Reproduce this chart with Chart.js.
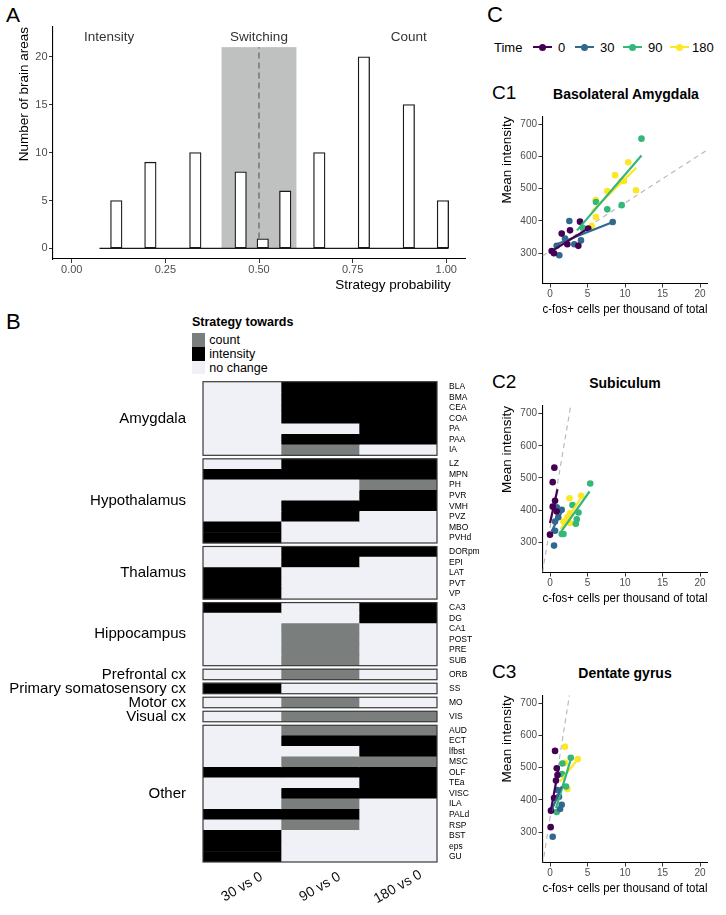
<!DOCTYPE html>
<html>
<head>
<meta charset="utf-8">
<script src="https://cdn.jsdelivr.net/npm/chart.js@4.4.1/dist/chart.umd.min.js"></script>
<style>
body { margin:0; width:726px; height:915px; position:relative; background:#fff; overflow:hidden;
  font-family:"Liberation Sans", Arial, Helvetica, sans-serif; color:#000; }
canvas { position:absolute; }
.t { position:absolute; white-space:nowrap; line-height:1; transform:translateY(-50%); }
.tc { position:absolute; white-space:nowrap; line-height:1; transform:translate(-50%,-50%); }
.box { position:absolute; }
</style>
</head>
<body>
<div class="t" style="left:6px;top:14px;font-size:21px">A</div>
<div class="t" style="left:6px;top:322px;font-size:22px">B</div>
<div class="t" style="left:487px;top:15px;font-size:22px">C</div>
<div class="t" style="left:492px;top:92px;font-size:19px">C1</div>
<div class="tc" style="left:626px;top:93.5px;font-size:14px;font-weight:bold">Basolateral Amygdala</div>
<div class="t" style="left:492px;top:381px;font-size:19px">C2</div>
<div class="tc" style="left:625px;top:383px;font-size:14px;font-weight:bold">Subiculum</div>
<div class="t" style="left:492px;top:670.5px;font-size:19px">C3</div>
<div class="tc" style="left:625px;top:673px;font-size:14px;font-weight:bold">Dentate gyrus</div>
<div class="t" style="left:192px;top:322px;font-size:12.5px;font-weight:bold">Strategy towards</div>
<div id="legB"></div>
<div class="t" style="left:494px;top:47px;font-size:13px">Time</div>
<div id="legC"></div>

<canvas id="histA" width="470" height="300" style="left:0;top:0"></canvas>
<canvas id="heatB" width="480" height="615" style="left:0;top:300px"></canvas>
<canvas id="c1" width="246" height="220" style="left:480px;top:100px"></canvas>
<canvas id="c2" width="246" height="220" style="left:480px;top:389px"></canvas>
<canvas id="c3" width="246" height="220" style="left:480px;top:679px"></canvas>

<script>
Chart.defaults.font.family = '"Liberation Sans", Arial, Helvetica, sans-serif';
Chart.defaults.color = '#4d4d4d';

// ---------- A: strategy probability histogram
const probBins = [0.119, 0.210, 0.330, 0.451, 0.510, 0.570, 0.661, 0.780, 0.900, 0.991];
const areaCounts = [5, 9, 10, 8, 1, 6, 10, 20, 15, 5];
const histRange = [0.074, 1.006];
const probTicks = [0, 0.25, 0.5, 0.75, 1];
const countTicks = [0, 5, 10, 15, 20];
const zoneNames = ['Intensity', 'Switching', 'Count'];
const zoneX = [0.1, 0.5, 0.9];
const zoneLabelY = 22;
const switchBand = [0.4, 0.6];
const switchTop = 21;
const switchMid = 0.5;

// ---------- B: strategy change per area
const groupNames = ['Amygdala', 'Hypothalamus', 'Thalamus', 'Hippocampus', 'Prefrontal cx',
  'Primary somatosensory cx', 'Motor cx', 'Visual cx', 'Other'];
const groupSizes = [7, 8, 5, 6, 1, 1, 1, 1, 13];
const areaNames = ['BLA','BMA','CEA','COA','PA','PAA','IA',
  'LZ','MPN','PH','PVR','VMH','PVZ','MBO','PVHd',
  'DORpm','EPI','LAT','PVT','VP',
  'CA3','DG','CA1','POST','PRE','SUB',
  'ORB','SS','MO','VIS',
  'AUD','ECT','lfbst','MSC','OLF','TEa','VISC','ILA','PALd','RSP','BST','eps','GU'];
const comparisons = ['30 vs 0', '90 vs 0', '180 vs 0'];
// c = count, i = intensity, n = no change (one letter per area, groups split by spaces)
const towards30  = 'nnnnnnn ninnnnii nniii innnnn n i n n nnnninnniniii';
const towards90  = 'iiiinic iinniinn iinnn nncccc c n c c cincinicicnnn';
const towards180 = 'iiiiiin iiciinnn innnn iinnnn n n n c ciiciiinnnnnn';
const strategyKeys = ['c', 'i', 'n'];
const strategyNames = ['count', 'intensity', 'no change'];
const strategyColors = ['#7a7f7d', '#000000', '#f0f0f7'];

// ---------- C: intensity vs c-fos counts
const times = ['0', '30', '90', '180'];
const timeColors = ['#440154', '#31688e', '#35b779', '#fde725'];
const cfosTicks = [0, 5, 10, 15, 20];
const intensityTicks = [300, 400, 500, 600, 700];

// C1 basolateral amygdala
const blaCount = [
  [0.22, 0.53, 1.56, 2.31, 2.67, 3.78, 4.0, 5.1],
  [0.89, 1.24, 2.0, 2.58, 3.24, 4.13, 8.36],
  [4.36, 6.13, 7.64, 9.56, 12.2],
  [5.56, 6.13, 6.09, 7.64, 8.67, 9.56, 9.87, 10.44, 11.47]];
const blaIntensity = [
  [307, 300, 361, 328, 371, 323, 398, 377],
  [323, 294, 346, 400, 328, 340, 397],
  [379, 459, 436, 449, 655],
  [385, 412, 465, 493, 542, 524, 524, 582, 495]];
const blaFitX = [[0.13, 5.1], [0.9, 8.4], [3.6, 12.2], [5.56, 11.5]];
const blaFitY = [[305, 377], [328, 397], [371, 603], [429, 565]];
const blaRefX = [-1, 21];
const blaRefY = [291.6, 620.4];

// C2 subiculum
const subCount = [
  [0.58, 0.36, 0.67, 0.36, 0.9, 0.0],
  [0.54, 0.9, 1.56, 1.1, 0.67, 0.67],
  [5.36, 3.0, 3.8, 3.57, 3.44, 1.56, 1.8],
  [2.6, 4.15, 2.68, 1.79, 2.32, 2.68]];
const subIntensity = [
  [532, 487, 429, 411, 396, 324],
  [290, 409, 401, 378, 365, 336],
  [483, 416, 393, 372, 358, 326, 326],
  [437, 445, 391, 365, 378, 360]];
const subFitX = [[0, 1.0], [0.2, 1.7], [1.34, 5.27], [1.43, 4.24]];
const subFitY = [[360, 465], [334, 401], [329, 458], [341, 442]];
const subRefX = [-1, 2.75];
const subRefY = [207, 723];

// C3 dentate gyrus
const dgCount = [
  [0.67, 0.09, 0.13, 0.9, 1.0, 0.54, 0.8],
  [0.36, 1.34, 1.56, 1.0, 1.2],
  [0.9, 1.65, 2.14, 2.77, 1.6],
  [2.0, 3.7, 2.0, 2.32]];
const dgIntensity = [
  [552, 316, 367, 498, 477, 406, 460],
  [286, 372, 385, 431, 410],
  [363, 513, 442, 531, 480],
  [565, 527, 515, 434]];
const dgFitX = [[0.1, 1.2], [0.2, 1.56], [0.8, 2.9], [1.34, 3.7]];
const dgFitY = [[365, 505], [367, 442], [375, 536], [457, 526]];
const dgRefX = [-1, 2.6];
const dgRefY = [197, 726];

const FONT = '"Liberation Sans", Arial, Helvetica, sans-serif';
const noHover = { legend: { display: false }, tooltip: { enabled: false } };

// ================= A
const zonePlugin = {
  id: 'zones',
  beforeDatasetsDraw(chart) {
    const { ctx, scales: { x, y } } = chart;
    const x0 = x.getPixelForValue(switchBand[0]), x1 = x.getPixelForValue(switchBand[1]);
    const yt = y.getPixelForValue(switchTop), yb = y.getPixelForValue(0);
    ctx.save();
    ctx.fillStyle = '#bfc1c0';
    ctx.fillRect(x0, yt, x1 - x0, yb - yt);
    ctx.restore();
  },
  afterDraw(chart) {
    const { ctx, scales: { x, y }, chartArea } = chart;
    ctx.save();
    ctx.font = '13.5px ' + FONT;
    ctx.textBaseline = 'middle';
    ctx.textAlign = 'center';
    ctx.fillStyle = '#333';
    zoneNames.forEach((n, i) => ctx.fillText(n, x.getPixelForValue(zoneX[i]), y.getPixelForValue(zoneLabelY)));
    ctx.fillStyle = '#000';
    ctx.textAlign = 'right';
    ctx.fillText('Strategy probability', x.getPixelForValue(1) + 4.5, chartArea.bottom + 26);
    ctx.restore();
  }
};

new Chart(document.getElementById('histA'), {
  type: 'bar',
  data: {
    datasets: [
      { type: 'bar', data: probBins.map((p, i) => ({ x: p, y: areaCounts[i] })),
        backgroundColor: '#ffffff', borderColor: '#1a1a1a', borderWidth: 1.3, borderSkipped: false,
        barThickness: 11.5, order: 0 },
      { type: 'line', data: histRange.map(p => ({ x: p, y: 0 })),
        borderColor: '#1a1a1a', borderWidth: 1.3, pointRadius: 0, order: 0 },
      { type: 'line', data: [{ x: switchMid, y: 0 }, { x: switchMid, y: switchTop }],
        borderColor: '#595959', borderWidth: 1.1, borderDash: [6, 4], pointRadius: 0, order: 2 }
    ]
  },
  options: {
    responsive: false, animation: false, events: [],
    layout: { padding: { left: 0, right: 5, top: 27, bottom: 0 } },
    plugins: noHover,
    scales: {
      x: { type: 'linear', min: -0.05, max: 1.05, offset: false,
        afterBuildTicks: s => { s.ticks = probTicks.map(v => ({ value: v })); },
        afterFit: s => { s.height = 41; },
        ticks: { callback: v => v.toFixed(2), color: '#4d4d4d', font: { size: 11 }, padding: 0, maxRotation: 0 },
        grid: { drawOnChartArea: false, tickLength: 4, color: '#333', offset: false },
        border: { color: '#000', width: 1.1 } },
      y: { type: 'linear', min: -1.1, max: 23.1,
        afterBuildTicks: s => { s.ticks = countTicks.map(v => ({ value: v })); },
        afterFit: s => { s.width = 53; },
        ticks: { color: '#4d4d4d', font: { size: 11 }, padding: 1.5 },
        grid: { drawOnChartArea: false, tickLength: 4, color: '#333' },
        border: { color: '#000', width: 1.1 },
        title: { display: true, text: 'Number of brain areas', align: 'end', color: '#000',
          font: { size: 13.5 }, padding: { top: 15.9, bottom: 0 } } }
    }
  },
  plugins: [zonePlugin]
});

// ================= B
const groupGap = 0.333;
const rowPos = [], groupCenter = [], groupSpan = [];
let rowCount = 0;
groupSizes.forEach((n, g) => {
  const first = rowCount + g * groupGap;
  for (let r = 0; r < n; r++) rowPos.push(first + r);
  groupSpan.push([first - 0.5, first + n - 0.5]);
  groupCenter.push(first + (n - 1) / 2);
  rowCount += n;
});
const towards = [towards30, towards90, towards180].map(s => s.replace(/\s/g, '').split(''));
const colorOf = k => strategyColors[strategyKeys.indexOf(k)];

const legB = document.getElementById('legB');
strategyNames.forEach((n, i) => {
  const top = 333.3 + i * 13.7;
  legB.insertAdjacentHTML('beforeend',
    `<div class="box" style="left:192px;top:${top}px;width:13.3px;height:13.7px;background:${strategyColors[i]}"></div>` +
    `<div class="t" style="left:209.3px;top:${top + 6.9}px;font-size:12.5px">${n}</div>`);
});

const heatPlugin = {
  id: 'heatBoxes',
  afterDatasetsDraw(chart) {
    const { ctx, chartArea, scales: { x, y } } = chart;
    ctx.save();
    ctx.strokeStyle = '#3a3a3a';
    ctx.lineWidth = 1.2;
    groupSpan.forEach(([a, b]) => {
      const ya = y.getPixelForValue(a), yb = y.getPixelForValue(b);
      ctx.strokeRect(chartArea.left, ya, chartArea.right - chartArea.left, yb - ya);
    });
    ctx.fillStyle = '#111';
    ctx.font = '14px ' + FONT;
    ctx.textAlign = 'center';
    ctx.textBaseline = 'middle';
    comparisons.forEach((c, j) => {
      ctx.save();
      ctx.translate(x.getPixelForValue(j + 0.5), chartArea.bottom + 25);
      ctx.rotate(-30 * Math.PI / 180);
      ctx.fillText(c, 0, 0);
      ctx.restore();
    });
    ctx.restore();
  }
};

new Chart(document.getElementById('heatB'), {
  type: 'bar',
  data: {
    datasets: comparisons.map((c, j) => ({
      label: c, yAxisID: 'y', xAxisID: 'x',
      data: rowPos.map(p => ({ x: 1, y: p })),
      backgroundColor: towards[j].map(colorOf),
      borderWidth: 0, barPercentage: 1, categoryPercentage: 1
    }))
  },
  options: {
    indexAxis: 'y',
    responsive: false, animation: false, events: [],
    layout: { padding: { left: 0, right: 0, top: 81.7, bottom: 53 } },
    plugins: noHover,
    scales: {
      x: { type: 'linear', min: 0, max: 3, stacked: true, display: false },
      y: { type: 'linear', position: 'right', reverse: true, stacked: true, offset: false,
        min: -0.5, max: rowPos[rowPos.length - 1] + 0.5,
        afterBuildTicks: s => { s.ticks = rowPos.map(v => ({ value: v })); },
        afterFit: s => { s.width = 43; },
        ticks: { autoSkip: false, callback: (v, i) => areaNames[i], color: '#000', font: { size: 8.5 }, padding: 4 },
        grid: { display: false }, border: { display: false } },
      yg: { type: 'linear', axis: 'y', position: 'left', reverse: true, offset: false,
        min: -0.5, max: rowPos[rowPos.length - 1] + 0.5,
        afterBuildTicks: s => { s.ticks = groupCenter.map(v => ({ value: v })); },
        afterFit: s => { s.width = 203; },
        ticks: { autoSkip: false, callback: (v, i) => groupNames[i], color: '#000', font: { size: 15 }, padding: 9 },
        grid: { display: false }, border: { display: false } }
    }
  },
  plugins: [heatPlugin]
});

// ================= C
const legC = document.getElementById('legC');
const legLineX = [533, 575, 623, 670];
const legTextX = [558, 600, 648, 692];
times.forEach((t, j) => {
  legC.insertAdjacentHTML('beforeend',
    `<div class="box" style="left:${legLineX[j]}px;top:45.7px;width:19px;height:2.6px;background:${timeColors[j]}"></div>` +
    `<div class="box" style="left:${legLineX[j] + 6}px;top:43.5px;width:7px;height:7px;border-radius:50%;background:${timeColors[j]}"></div>` +
    `<div class="t" style="left:${legTextX[j]}px;top:47px;font-size:13px">${t}</div>`);
});

function cfosChart(id, counts, intens, fitX, fitY, refX, refY, padTop) {
  const datasets = [{
    type: 'line', data: refX.map((v, i) => ({ x: v, y: refY[i] })),
    borderColor: '#b5b5b5', borderWidth: 1.1, borderDash: [5, 4], pointRadius: 0, order: 3
  }];
  times.forEach((t, j) => {
    datasets.push({ type: 'scatter', label: t, data: counts[j].map((v, i) => ({ x: v, y: intens[j][i] })),
      backgroundColor: timeColors[j], borderWidth: 0, pointRadius: 3.3, order: 2 });
    datasets.push({ type: 'line', data: fitX[j].map((v, i) => ({ x: v, y: fitY[j][i] })),
      borderColor: timeColors[j], borderWidth: 2.2, pointRadius: 0, order: 1 });
  });
  return new Chart(document.getElementById(id), {
    type: 'scatter',
    data: { datasets },
    options: {
      responsive: false, animation: false, events: [],
      layout: { padding: { left: 0, right: 18.5, top: padTop, bottom: 0 } },
      plugins: noHover,
      scales: {
        x: { type: 'linear', min: -1, max: 21,
          afterBuildTicks: s => { s.ticks = cfosTicks.map(v => ({ value: v })); },
          afterFit: s => { s.height = 36.5; },
          ticks: { color: '#4d4d4d', font: { size: 10 }, padding: 1, maxRotation: 0 },
          grid: { drawOnChartArea: false, tickLength: 4, color: '#333' },
          border: { color: '#000', width: 1.1 },
          title: { display: true, text: 'c-fos+ cells per thousand of total', align: 'end', color: '#000',
            font: { size: 13.5 }, padding: { top: 0, bottom: 2.5 } } },
        y: { type: 'linear', min: 206.5, max: 723.5,
          afterBuildTicks: s => { s.ticks = intensityTicks.map(v => ({ value: v })); },
          afterFit: s => { s.width = 62.5; },
          ticks: { color: '#4d4d4d', font: { size: 10 }, padding: 1.5 },
          grid: { drawOnChartArea: false, tickLength: 4, color: '#333' },
          border: { color: '#000', width: 1.1 },
          title: { display: true, text: 'Mean intensity', align: 'end', color: '#000',
            font: { size: 13.5 }, padding: { top: 18.9, bottom: 0 } } }
      }
    }
  });
}

cfosChart('c1', blaCount, blaIntensity, blaFitX, blaFitY, blaRefX, blaRefY, 16.5);
cfosChart('c2', subCount, subIntensity, subFitX, subFitY, subRefX, subRefY, 17);
cfosChart('c3', dgCount, dgIntensity, dgFitX, dgFitY, dgRefX, dgRefY, 16.5);
</script>
</body>
</html>
